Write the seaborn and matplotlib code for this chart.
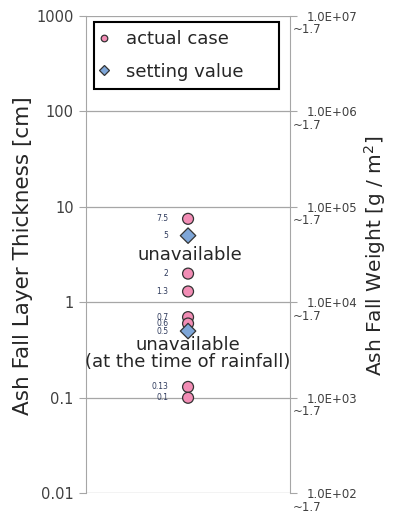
import pandas as pd
import matplotlib.pyplot as plt
import seaborn as sns

# data
actual_vals = [7.5, 2, 1.3, 0.7, 0.6, 0.13, 0.1]
actual_labels = ['7.5', '2', '1.3', '0.7', '0.6', '0.13', '0.1']
setting_vals = [5, 0.5]
setting_labels = ['5', '0.5']
left_ticks = [0.01, 0.1, 1, 10, 100, 1000]
left_ticklabels = ['0.01', '0.1', '1', '10', '100', '1000']
right_ticks = [1e2, 1e3, 1e4, 1e5, 1e6, 1e7]
right_ticklabels = ['1.0E+02', '1.0E+03', '1.0E+04', '1.0E+05', '1.0E+06', '1.0E+07']
right_sublabel = '~1.7'

df = pd.DataFrame({
    'x': [0] * (len(actual_vals) + len(setting_vals)),
    'y': actual_vals + setting_vals,
    'kind': ['actual case'] * len(actual_vals) + ['setting value'] * len(setting_vals),
})

sns.set_style('white')
plt.rcParams['font.family'] = ['DejaVu Sans']

fig = plt.figure(figsize=(3.93, 5.17), dpi=100)
ax = fig.add_axes([0.219, 0.046, 0.519, 0.923])

sns.scatterplot(data=df, x='x', y='y', hue='kind', style='kind',
                palette={'actual case': '#F28DB5', 'setting value': '#7EA6D8'},
                markers={'actual case': 'o', 'setting value': 'D'},
                s=62, edgecolor='#333333', linewidth=0.9, ax=ax, zorder=3)
ax.set_yscale('log')
ax.set_ylim(0.01, 1000)
ax.set_xlim(-1, 1)
ax.set_xticks([])
ax.set_xlabel('')
ax.set_yticks(left_ticks)
ax.set_yticklabels(left_ticklabels)
ax.yaxis.set_minor_locator(plt.NullLocator())
ax.grid(axis='y', color='#a6a6a6', linewidth=0.9)
ax.tick_params(axis='y', which='major', direction='out', length=5, color='#a6a6a6',
               labelsize=10.5, labelcolor='#404040', left=True, pad=4)
for side in ['top', 'right', 'bottom']:
    ax.spines[side].set_visible(False)
ax.spines['left'].set_color('#a6a6a6')
ax.set_ylabel('Ash Fall Layer Thickness [cm]', fontsize=15.5)
ax.yaxis.set_label_coords(-0.26, 0.497)

# value labels next to the points
for v, t in zip(actual_vals + setting_vals, actual_labels + setting_labels):
    ax.annotate(t, (0, v), xytext=(-14, 0), textcoords='offset points',
                ha='right', va='center', fontsize=5.5, color='#2e3a5c')

ax.text(0.02, 3.1, 'unavailable', ha='center', va='center', fontsize=13, zorder=4)
ax.text(0.0, 0.29, 'unavailable\n(at the time of rainfall)', ha='center', va='center',
        fontsize=13, linespacing=0.95, zorder=4)

leg = ax.legend(loc='upper left', bbox_to_anchor=(0.04, 0.0, 0.907, 0.987),
                mode='expand', borderaxespad=0, fontsize=13, frameon=True,
                fancybox=False, framealpha=1, handletextpad=1.1, handlelength=0.2,
                borderpad=0.45, labelspacing=0.8, markerscale=0.6)
leg.get_frame().set_edgecolor('black')
leg.get_frame().set_linewidth(1.5)
leg.set_title(None)

# right axis
ax2 = ax.twinx()
ax2.set_yscale('log')
ax2.set_ylim(1e2, 1e7)
ax2.set_yticks(right_ticks)
ax2.set_yticklabels(right_ticklabels)
ax2.yaxis.set_minor_locator(plt.NullLocator())
ax2.tick_params(axis='y', direction='out', length=5, color='#a6a6a6', labelsize=8.5,
                labelcolor='#404040', pad=7, right=True)
for v in right_ticks:
    ax2.annotate(right_sublabel, (1, v), xycoords=ax2.get_yaxis_transform(),
                 xytext=(2, -10), textcoords='offset points', ha='left', va='center',
                 fontsize=8.5, color='#404040', annotation_clip=False)
for side in ['top', 'left', 'bottom']:
    ax2.spines[side].set_visible(False)
ax2.spines['right'].set_color('#a6a6a6')
ax2.set_ylabel('Ash Fall Weight [g / m$^2$]', fontsize=14.5)
ax2.yaxis.set_label_coords(1.355, 0.497)

fig.savefig('out.png', dpi=100)
